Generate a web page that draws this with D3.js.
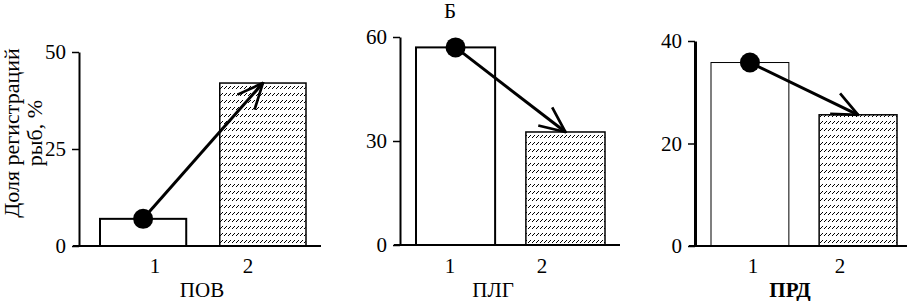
<!DOCTYPE html>
<html>
<head>
<meta charset="utf-8">
<script src="https://cdn.jsdelivr.net/npm/d3@7"></script>
<style>
body { margin: 0; background: #fff; }
svg text { font-family: "Liberation Serif", "Times New Roman", serif; fill: #000; }
</style>
</head>
<body>
<svg id="chart" width="913" height="301"></svg>
<script>
// data
var categories = ["1", "2"];
var panel_names = ["ПОВ", "ПЛГ", "ПРД"];
var values_1 = [7.0, 57.0, 35.8];   // period 1
var values_2 = [42.0, 32.6, 25.6];  // period 2
var y_max = [50, 60, 40];
var y_ticks = [[0, 25, 50], [0, 30, 60], [0, 20, 40]];

// layout (pixels)
var g_layout = [
    { ax: 79, y0: 246, y1: 52, bars: [100, 306], lab: [155, 248], xend: 321, tx: 202, bold: false, yw: 2, bw: 2 },
    { ax: 400, y0: 245, y1: 37, bars: [416, 605], lab: [450, 542], xend: 620, tx: 493, bold: false, yw: 2, bw: 2 },
    { ax: 695, y0: 246, y1: 41, bars: [711, 897], lab: [753, 840], xend: 907, tx: 790, bold: true, yw: 3, bw: 1 }
];

var svg = d3.select("#chart");

// hatch pattern: rows of small pixel slashes
var defs = svg.append("defs");
var pat = defs.append("pattern").attr("id", "hatch")
    .attr("patternUnits", "userSpaceOnUse")
    .attr("width", 4).attr("height", 7);
pat.append("rect").attr("width", 4).attr("height", 7).attr("fill", "#fff");
pat.append("path").attr("d", "M0,5h1v-1h1v-1h1v-1h-1v1h-1v1h-1z")
    .attr("fill", "#000").attr("shape-rendering", "crispEdges");

var marker = defs.append("marker").attr("id", "arrow")
    .attr("viewBox", "0 0 10 10").attr("refX", 9.5).attr("refY", 5)
    .attr("markerWidth", 10).attr("markerHeight", 10)
    .attr("markerUnits", "strokeWidth").attr("orient", "auto");
marker.append("path").attr("d", "M1,1.2 L9.5,5 L1,8.8")
    .attr("fill", "none").attr("stroke", "#000").attr("stroke-width", 0.9);

g_layout.forEach(function (L, i) {
    var g = svg.append("g");
    var y = d3.scaleLinear().domain([0, y_max[i]]).range([L.y0, L.y1]);
    var x = d3.scaleBand().domain(categories).range(L.bars).paddingInner(0.28).paddingOuter(0);
    var xl = d3.scalePoint().domain(categories).range(L.lab);

    // bars
    var d = [values_1[i], values_2[i]];
    g.selectAll(".bar").data(d).join("rect").classed("bar", true)
        .attr("x", (v, k) => x(categories[k]))
        .attr("y", v => y(v))
        .attr("width", x.bandwidth())
        .attr("height", v => y(0) - y(v))
        .attr("fill", (v, k) => k === 0 ? "#fff" : "url(#hatch)")
        .attr("stroke", "#000")
        .attr("stroke-width", (v, k) => k === 0 ? L.bw : 1.5);

    // y axis
    var ya = g.append("g").attr("transform", "translate(" + L.ax + ",0)")
        .call(d3.axisLeft(y).tickValues(y_ticks[i]).tickSize(7).tickPadding(6).tickSizeOuter(0));
    ya.select(".domain").attr("stroke-width", L.yw);
    ya.selectAll(".tick line").attr("stroke-width", 1.5);
    ya.selectAll("text").style("font-size", "21px").style("font-family", "Liberation Serif");

    // x baseline
    g.append("line").attr("x1", L.ax - 6).attr("x2", L.xend)
        .attr("y1", y(0)).attr("y2", y(0))
        .attr("stroke", "#000").attr("stroke-width", 2);

    // x tick labels
    g.selectAll(".xlab").data(categories).join("text").classed("xlab", true)
        .attr("x", c => xl(c)).attr("y", 273)
        .attr("text-anchor", "middle").style("font-size", "21px")
        .text(c => c);

    // x title
    g.append("text").attr("x", L.tx).attr("y", 297)
        .attr("text-anchor", "middle").style("font-size", "21px")
        .style("font-weight", L.bold ? "bold" : "normal")
        .text(panel_names[i]);

    // arrow from dot to bar 2
    var cx1 = x(categories[0]) + x.bandwidth() / 2;
    var cx2 = x(categories[1]) + x.bandwidth() / 2;
    g.append("line")
        .attr("x1", cx1).attr("y1", y(d[0]))
        .attr("x2", cx2).attr("y2", y(d[1]))
        .attr("stroke", "#000").attr("stroke-width", 3)
        .attr("marker-end", "url(#arrow)");
    g.append("circle").attr("cx", cx1).attr("cy", y(d[0])).attr("r", 10).attr("fill", "#000");
});

// y label
var yl = svg.append("text").attr("transform", "translate(0,133) rotate(-90)")
    .attr("text-anchor", "middle").style("font-size", "22px");
yl.append("tspan").attr("x", 0).attr("y", 19).text("Доля регистраций");
yl.append("tspan").attr("x", 0).attr("y", 42).text("рыб, %");

// panel letter
svg.append("text").attr("x", 450).attr("y", 18).attr("text-anchor", "middle")
    .style("font-size", "21px").text("Б");
</script>
</body>
</html>
